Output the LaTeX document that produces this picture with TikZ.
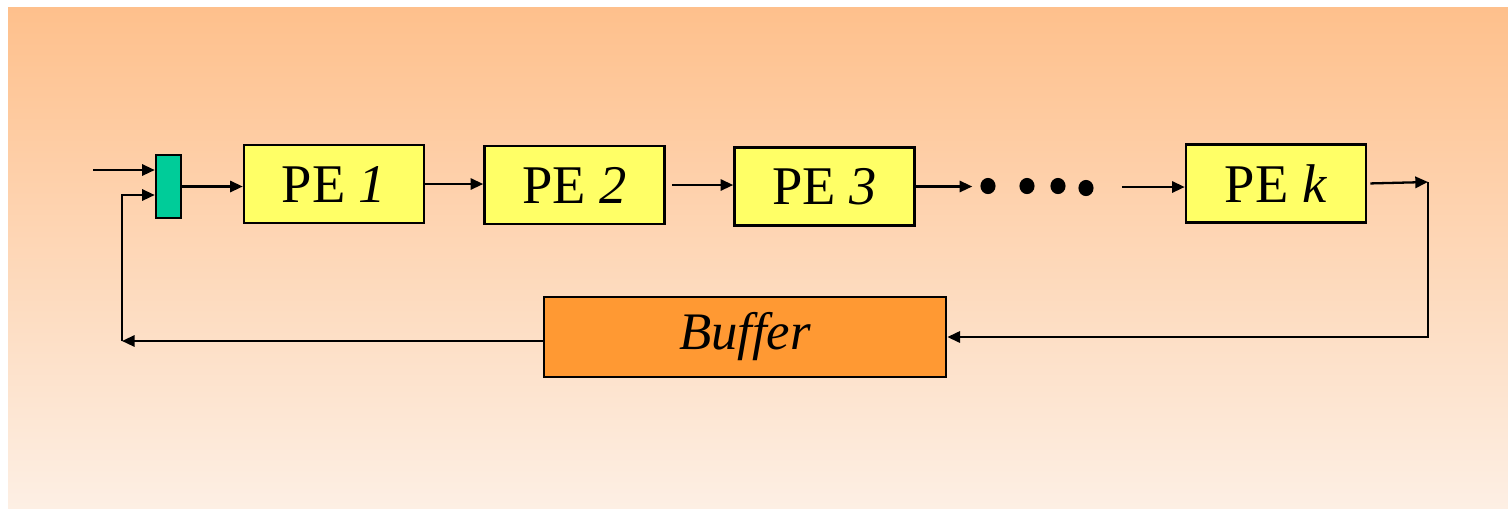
\documentclass[tikz,border=0pt]{standalone}
\usepackage{fontspec}
\setmainfont{LiberationSerif}[Extension=.ttf,UprightFont=*-Regular,ItalicFont=*-Italic,BoldFont=*-Bold]
\usetikzlibrary{calc}
\usetikzlibrary{arrows.meta}

\definecolor{peyellow}{RGB}{255,255,102}
\definecolor{muxgreen}{RGB}{0,204,153}
\definecolor{buforange}{RGB}{255,153,51}
\definecolor{bgtop}{RGB}{254,192,140}
\definecolor{bgbottom}{RGB}{253,239,228}

\begin{document}
\begin{tikzpicture}[x=0.01cm,y=-0.01cm,
        pe/.style={draw=black,rectangle,inner sep=0pt,fill=peyellow,line width=0.7pt,minimum width=1.8cm,minimum height=0.78cm,font=\fontsize{15.5}{18}\selectfont},
        mux/.style={draw=black,rectangle,inner sep=0pt,fill=muxgreen,line width=0.7pt,minimum width=0.25cm,minimum height=0.63cm},
        buf/.style={draw=black,rectangle,inner sep=0pt,fill=buforange,line width=0.7pt,minimum width=4.02cm,minimum height=0.8cm,font=\fontsize{15}{18}\selectfont},
        link/.style={line width=0.65pt,-{Triangle[length=3.6pt,width=3.2pt]}}
      ]
      \useasboundingbox (0,0) rectangle (1508,508);
      \shade[top color=bgtop,bottom color=bgbottom] (8,7) rectangle (1508,508);
      \node[mux] (mx) at (168.5,186.5) {};
      \node[pe] (pe1) at (334,184) {PE \textit{1}};
      \node[pe] (pe2) at (574.5,185) {PE \textit{2}};
      \node[pe] (pe3) at (824.5,186.5) {PE \textit{3}};
      \node[minimum width=1.13cm,minimum height=0.2cm,inner sep=0pt] (dots) at (1036.5,187) {};
      \node[pe] (pek) at (1276,183.5) {PE \textit{k}};
      \node[buf] (bf) at (745,337) {\textit{Buffer}};
      \foreach \x/\y in {988/186,1027/186,1058/186,1086/188}
        \fill (\x,\y) ellipse [x radius=2.15pt,y radius=2.3pt];
      \coordinate (in) at (93,170);
      \coordinate (fb) at (122,341);
      \coordinate (out) at (1428,182);
      % Connections.
      \draw[link] (in) -- (in -| mx.west);
      \draw[link] (mx.east) -- (mx.east -| pe1.west);
      \draw[link] (pe1.east) -- (pe1.east -| pe2.west);
      \draw[link,shorten <=0.06cm] (pe2.east) -- (pe2.east -| pe3.west);
      \draw[link,shorten >=0.07cm] (pe3.east) -- (pe3.east -| dots.west);
      \draw[link,shorten <=0.28cm] (dots.east) -- (dots.east -| pek.west);
      \draw[link,shorten <=0.03cm] (pek.east) -- (out);
      \draw[link] (out) |- (bf.east);
      \draw[link] (bf.west |- fb) -- (fb);
      \draw[link] (fb) |- ($(mx.west)+(0,8.5)$);
    \end{tikzpicture}
\end{document}
